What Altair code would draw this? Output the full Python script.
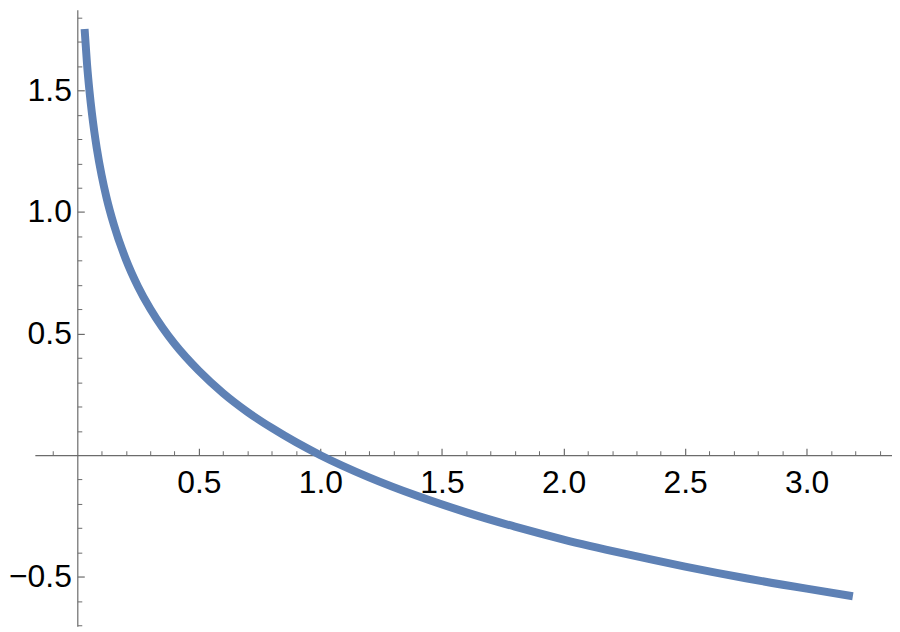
import altair as alt
import pandas as pd

# values
xs = [0.03, 0.04, 0.05, 0.06, 0.07, 0.08, 0.1, 0.12, 0.15, 0.2, 0.25, 0.3, 0.35,
      0.4, 0.5, 0.6, 0.7, 0.8, 0.9, 1.0, 1.2, 1.4, 1.6, 1.8, 2.0, 2.25, 2.5,
      2.75, 3.0, 3.19]
ys = [1.753, 1.609, 1.498, 1.407, 1.330, 1.263, 1.151, 1.060, 0.949, 0.805,
      0.693, 0.602, 0.525, 0.458, 0.347, 0.255, 0.178, 0.112, 0.053, 0.0,
      -0.091, -0.168, -0.235, -0.294, -0.347, -0.405, -0.458, -0.506, -0.549,
      -0.580]

x_labels = [0.5, 1.0, 1.5, 2.0, 2.5, 3.0]
y_labels = [-0.5, 0.5, 1.0, 1.5]
x_minor = [-0.1, 0.1, 0.2, 0.3, 0.4, 0.6, 0.7, 0.8, 0.9, 1.1, 1.2, 1.3, 1.4,
           1.6, 1.7, 1.8, 1.9, 2.1, 2.2, 2.3, 2.4, 2.6, 2.7, 2.8, 2.9, 3.1,
           3.2, 3.3]
y_minor = [-0.7, -0.6, -0.4, -0.3, -0.2, -0.1, 0.1, 0.2, 0.3, 0.4, 0.6, 0.7,
           0.8, 0.9, 1.1, 1.2, 1.3, 1.4, 1.6, 1.7, 1.8]

df = pd.DataFrame({"x": xs, "y": ys})

W, H = 862, 620
XDOM = [-0.1746, 3.351]
YDOM = [-0.7035, 1.832]
AX_GRAY = "#6b6b6b"
FONT = "Liberation Sans"
FS = 32

xs_scale = alt.Scale(domain=XDOM, nice=False, zero=False)
ys_scale = alt.Scale(domain=YDOM, nice=False, zero=False)

line = alt.Chart(df).mark_line(
    color="#5E81B5", strokeWidth=8, interpolate="monotone", strokeCap="butt"
).encode(
    x=alt.X("x:Q", scale=xs_scale, title=None,
            axis=alt.Axis(orient="bottom", offset=-172, values=x_labels,
                          format=".1f", ticks=False, tickSize=0, domain=False,
                          grid=False, labelPadding=12.5, labelFontSize=FS,
                          labelFont=FONT, labelColor="black",
                          labelBaseline="top")),
    y=alt.Y("y:Q", scale=ys_scale, title=None,
            axis=alt.Axis(orient="left", offset=-42.7, values=y_labels,
                          format=".1f", ticks=False, tickSize=0, domain=False,
                          grid=False, labelPadding=6, labelFontSize=FS,
                          labelFont=FONT, labelColor="black")),
)

major = alt.Chart(df).mark_line(opacity=0).encode(
    x=alt.X("x:Q", scale=xs_scale, title=None,
            axis=alt.Axis(orient="top", offset=-448, values=x_labels,
                          labels=False, ticks=True, tickSize=7, domain=True,
                          domainColor=AX_GRAY, tickColor=AX_GRAY,
                          domainWidth=1.2, tickWidth=1.2, grid=False)),
    y=alt.Y("y:Q", scale=ys_scale, title=None,
            axis=alt.Axis(orient="right", offset=-(W - 42.7), values=y_labels,
                          labels=False, ticks=True, tickSize=7, domain=True,
                          domainColor=AX_GRAY, tickColor=AX_GRAY,
                          domainWidth=1.2, tickWidth=1.2, grid=False)),
)

minor = alt.Chart(df).mark_line(opacity=0).encode(
    x=alt.X("x:Q", scale=xs_scale, title=None,
            axis=alt.Axis(orient="top", offset=-448, values=x_minor,
                          labels=False, ticks=True, tickSize=4.5, domain=False,
                          tickColor=AX_GRAY, tickWidth=1, grid=False)),
    y=alt.Y("y:Q", scale=ys_scale, title=None,
            axis=alt.Axis(orient="right", offset=-(W - 42.7), values=y_minor,
                          labels=False, ticks=True, tickSize=4.5, domain=False,
                          tickColor=AX_GRAY, tickWidth=1, grid=False)),
)

chart = alt.layer(minor, major, line).resolve_axis(
    x="independent", y="independent"
).properties(
    width=W, height=H,
    autosize=alt.AutoSizeParams(type="none"),
    padding={"left": 27, "top": 0, "right": 0, "bottom": 0},
).configure_view(stroke=None)

chart.save("out.html", embed_options={"renderer": "svg", "actions": False})
